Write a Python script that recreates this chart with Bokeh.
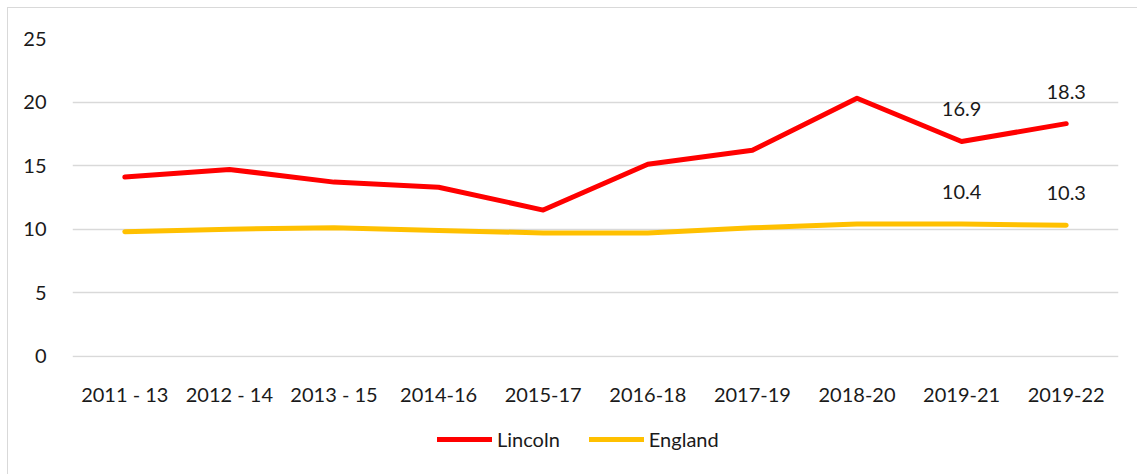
from bokeh.plotting import figure
from bokeh.models import ColumnDataSource, LabelSet, Legend, LegendItem, FixedTicker
from bokeh.layouts import column
from bokeh.core.properties import value
from bokeh.embed import file_html
from bokeh.resources import INLINE

periods = ["2011 - 13", "2012 - 14", "2013 - 15", "2014-16", "2015-17",
           "2016-18", "2017-19", "2018-20", "2019-21", "2019-22"]
lincoln = [14.1, 14.7, 13.7, 13.3, 11.5, 15.1, 16.2, 20.3, 16.9, 18.3]
england = [9.8, 10.0, 10.1, 9.9, 9.7, 9.7, 10.1, 10.4, 10.4, 10.3]
y_ticks = [0, 5, 10, 15, 20, 25]

FONT = "Lato"
FS = "20px"
TXT = "#1a1a1a"
RED = "#FF0000"
GOLD = "#FFC000"

src = ColumnDataSource(dict(x=periods, lincoln=lincoln, england=england))

p = figure(x_range=periods, y_range=(-0.1, 25), width=1129, height=400,
           output_backend="svg", toolbar_location=None,
           min_border_left=64, min_border_right=19, min_border_top=30,
           min_border_bottom=49)
p.outline_line_color = None

r1 = p.line("x", "lincoln", source=src, line_color=RED, line_width=5,
            line_join="round", line_cap="round")
r2 = p.line("x", "england", source=src, line_color=GOLD, line_width=5,
            line_join="round", line_cap="round")

# data labels for the last two periods
lab_src = ColumnDataSource(dict(
    x=periods[-2:] + periods[-2:],
    y=lincoln[-2:] + england[-2:],
    t=[f"{v:.1f}" for v in lincoln[-2:]] + [f"{v:.1f}" for v in england[-2:]],
))
p.add_layout(LabelSet(x="x", y="y", text="t", source=lab_src, y_offset=32,
                      text_align="center", text_baseline="middle",
                      text_font=value(FONT), text_font_size=FS, text_color=TXT))

p.xgrid.grid_line_color = None
p.ygrid.grid_line_color = "#d9d9d9"
p.ygrid.grid_line_width = 1.5
p.yaxis.ticker = FixedTicker(ticks=y_ticks)

for ax in (p.xaxis[0], p.yaxis[0]):
    ax.axis_line_color = None
    ax.major_tick_line_color = None
    ax.minor_tick_line_color = None
    ax.major_label_text_font = FONT
    ax.major_label_text_font_size = FS
    ax.major_label_text_color = TXT
p.xaxis.major_label_standoff = 18
p.yaxis.major_label_standoff = 20

# legend strip below the chart
leg = figure(width=1129, height=66, x_range=(0, 1), y_range=(0, 1),
             output_backend="svg", toolbar_location=None,
             min_border=0, min_border_left=0, min_border_right=0,
             min_border_top=0, min_border_bottom=0)
leg.axis.visible = False
leg.grid.visible = False
leg.outline_line_color = None
lsrc = ColumnDataSource(dict(x=[5, 6], y=[5, 6]))
l1 = leg.line("x", "y", source=lsrc, line_color=RED, line_width=5, line_cap="round")
l2 = leg.line("x", "y", source=lsrc, line_color=GOLD, line_width=5, line_cap="round")
legend = Legend(items=[LegendItem(label="Lincoln", renderers=[l1]),
                       LegendItem(label="England", renderers=[l2])],
                orientation="horizontal", location=(365, 23),
                label_text_font=FONT, label_text_font_size=FS,
                label_text_color=TXT, glyph_width=55, glyph_height=20,
                label_standoff=5, spacing=29, border_line_color=None,
                background_fill_alpha=0, margin=0, padding=4)
leg.add_layout(legend, "center")

layout = column(p, leg, spacing=0,
                styles={"margin-left": "7px", "margin-top": "7px",
                        "border-left": "1px solid #d9d9d9",
                        "border-top": "1px solid #d9d9d9"})

open("out.html", "w").write(file_html(layout, INLINE))
